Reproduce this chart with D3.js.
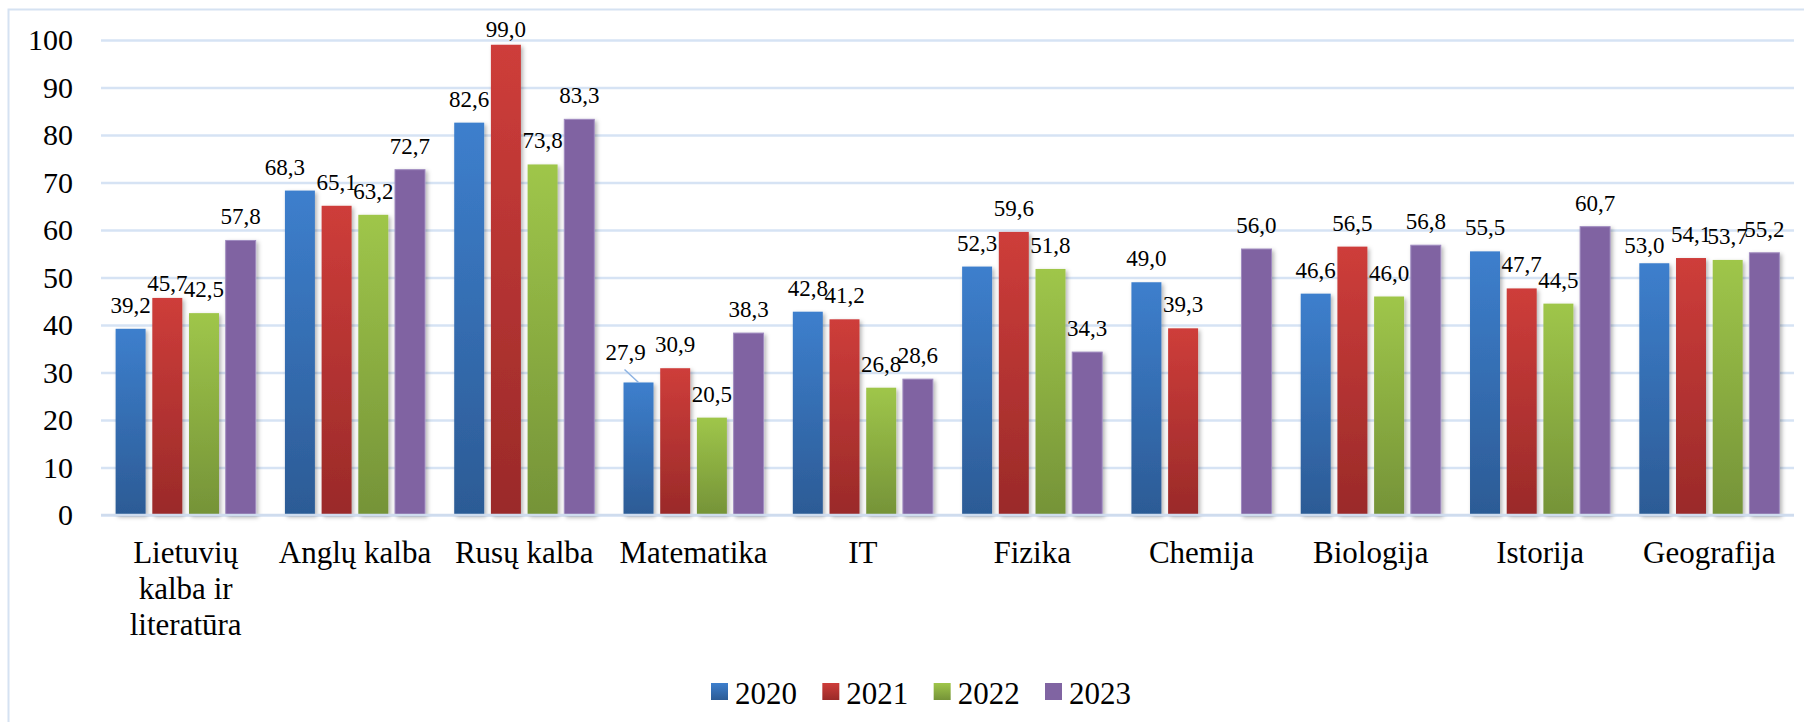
<!DOCTYPE html>
<html>
<head>
<meta charset="utf-8">
<script src="https://cdn.jsdelivr.net/npm/d3@7"></script>
</head>
<body style="margin:0">
<div id="chart"></div>
<script>
const categories = ["Lietuvių kalba ir literatūra", "Anglų kalba", "Rusų kalba", "Matematika", "IT",
  "Fizika", "Chemija", "Biologija", "Istorija", "Geografija"];
const years = ["2020", "2021", "2022", "2023"];
const values2020 = [39.2, 68.3, 82.6, 27.9, 42.8, 52.3, 49.0, 46.6, 55.5, 53.0];
const values2021 = [45.7, 65.1, 99.0, 30.9, 41.2, 59.6, 39.3, 56.5, 47.7, 54.1];
const values2022 = [42.5, 63.2, 73.8, 20.5, 26.8, 51.8, null, 46.0, 44.5, 53.7];
const values2023 = [57.8, 72.7, 83.3, 38.3, 28.6, 34.3, 56.0, 56.8, 60.7, 55.2];
const yTicks = [0, 10, 20, 30, 40, 50, 60, 70, 80, 90, 100];

const seriesValues = [values2020, values2021, values2022, values2023];

const serif = "Liberation Serif";

// colours: gradient top / bottom per year
const colors = {
  "2020": ["#3d7fcd", "#2c5b95"],
  "2021": ["#ce3d3a", "#9a2a29"],
  "2022": ["#9fc64a", "#759338"],
  "2023": ["#8064a2", "#8064a2"]
};

// labels moved by hand in the original chart
const nudge = {
  "0|2021": [0, 9],
  "1|2020": [-15, 0],
  "2|2021": [0, 8],
  "3|2020": [-13, -6],
  "9|2020": [-10, 6]
};

const width = 1804, height = 722;
const plot = { left: 101, right: 1794, top: 40, bottom: 515 };

const svg = d3.select("#chart").append("svg")
  .attr("width", width)
  .attr("height", height);

const defs = svg.append("defs");
years.forEach(yr => {
  const g = defs.append("linearGradient")
    .attr("id", "grad" + yr)
    .attr("x1", 0).attr("y1", 0).attr("x2", 0).attr("y2", 1);
  g.append("stop").attr("offset", "0%").attr("stop-color", colors[yr][0]);
  g.append("stop").attr("offset", "100%").attr("stop-color", colors[yr][1]);
});
const shadow = defs.append("filter").attr("id", "shadow")
  .attr("x", "-20%").attr("y", "-5%").attr("width", "150%").attr("height", "115%");
shadow.append("feDropShadow")
  .attr("dx", 2).attr("dy", 2).attr("stdDeviation", 2)
  .attr("flood-color", "#000").attr("flood-opacity", 0.3);

// outer frame
svg.append("rect")
  .attr("x", 8.5).attr("y", 9.5)
  .attr("width", 1800).attr("height", 720)
  .attr("fill", "none")
  .attr("stroke", "#d5e2f2")
  .attr("stroke-width", 2);

const x0 = d3.scaleBand()
  .domain(categories)
  .range([plot.left, plot.right])
  .paddingInner(0.133)
  .paddingOuter(0.0665);

const x1 = d3.scaleBand()
  .domain(years)
  .range([0, x0.bandwidth()])
  .paddingInner(0.183)
  .paddingOuter(0.0915);

const y = d3.scaleLinear()
  .domain([0, 100])
  .range([plot.bottom, plot.top]);

// y axis + gridlines
const yAxis = svg.append("g")
  .attr("transform", "translate(" + plot.left + ",0)")
  .call(d3.axisLeft(y).tickValues(yTicks).tickSize(-(plot.right - plot.left)).tickPadding(28));
yAxis.select(".domain").remove();
yAxis.selectAll(".tick line")
  .attr("stroke", "#d6e3f4")
  .attr("stroke-width", 2.5);
yAxis.selectAll(".tick text")
  .attr("font-family", serif)
  .style("font-family", serif)
  .attr("font-size", 30)
  .attr("fill", "#000");

// bars
const rows = [];
categories.forEach((c, i) => {
  years.forEach((yr, j) => {
    const v = seriesValues[j][i];
    if (v != null) rows.push({ cat: c, ci: i, year: yr, value: v });
  });
});

svg.append("g").selectAll("rect")
  .data(rows)
  .enter()
  .append("rect")
  .attr("x", d => x0(d.cat) + x1(d.year))
  .attr("y", d => y(d.value))
  .attr("width", x1.bandwidth())
  .attr("height", d => y(0) - y(d.value))
  .attr("fill", d => "url(#grad" + d.year + ")")
  .attr("stroke", d => d.year == "2023" ? "#a08cc0" : "none")
  .attr("stroke-width", 1)
  .attr("filter", "url(#shadow)");

// leader line for the moved Matematika 2020 label
const lead = rows.find(d => d.ci == 3 && d.year == "2020");
svg.append("line")
  .attr("x1", x0(lead.cat) + x1(lead.year) + x1.bandwidth() / 2 - 14)
  .attr("y1", y(lead.value) - 13)
  .attr("x2", x0(lead.cat) + x1(lead.year) + x1.bandwidth() / 2)
  .attr("y2", y(lead.value))
  .attr("stroke", "#8db3e2")
  .attr("stroke-width", 1.5);

// data labels
svg.append("g").selectAll("text")
  .data(rows)
  .enter()
  .append("text")
  .text(d => d3.format(".1f")(d.value).replace(".", ","))
  .attr("x", d => x0(d.cat) + x1(d.year) + x1.bandwidth() / 2 + (nudge[d.ci + "|" + d.year] || [0, 0])[0])
  .attr("y", d => y(d.value) - 16 + (nudge[d.ci + "|" + d.year] || [0, 0])[1])
  .attr("text-anchor", "middle")
  .attr("font-family", serif)
  .style("font-family", serif)
  .attr("font-size", 23)
  .attr("fill", "#000");

// baseline
svg.append("line")
  .attr("x1", plot.left).attr("x2", plot.right)
  .attr("y1", y(0)).attr("y2", y(0))
  .attr("stroke", "#cfdcee")
  .attr("stroke-width", 2.5);

// category labels
const xAxis = svg.append("g")
  .attr("transform", "translate(0," + plot.bottom + ")")
  .call(d3.axisBottom(x0).tickSize(0).tickPadding(0));
xAxis.select(".domain").remove();
xAxis.selectAll(".tick text")
  .attr("font-family", serif)
  .style("font-family", serif)
  .attr("font-size", 31)
  .attr("fill", "#000")
  .attr("y", 48)
  .attr("dy", 0)
  .call(wrap, x0.step() - 4);

function wrap(texts, w) {
  texts.each(function() {
    const text = d3.select(this);
    const words = text.text().split(/\s+/);
    const yy = text.attr("y");
    text.text(null);
    let line = [];
    let lineNo = 0;
    let tspan = text.append("tspan").attr("x", 0).attr("y", yy);
    words.forEach(word => {
      line.push(word);
      tspan.text(line.join(" "));
      if (tspan.node().getComputedTextLength() > w && line.length > 1) {
        line.pop();
        tspan.text(line.join(" "));
        line = [word];
        lineNo++;
        tspan = text.append("tspan").attr("x", 0).attr("y", +yy + lineNo * 36).text(word);
      }
    });
  });
}

// legend
const legend = svg.append("g").attr("id", "legend");
const legX = d3.scalePoint().domain(years).range([711, 1045]);
legend.selectAll("rect")
  .data(years)
  .enter()
  .append("rect")
  .attr("x", d => legX(d))
  .attr("y", 683)
  .attr("width", 17)
  .attr("height", 17)
  .attr("fill", d => "url(#grad" + d + ")");
legend.selectAll("text")
  .data(years)
  .enter()
  .append("text")
  .text(d => d)
  .attr("x", d => legX(d) + 24)
  .attr("y", 704)
  .attr("font-family", serif)
  .style("font-family", serif)
  .attr("font-size", 31)
  .attr("fill", "#000");
</script>
</body>
</html>
